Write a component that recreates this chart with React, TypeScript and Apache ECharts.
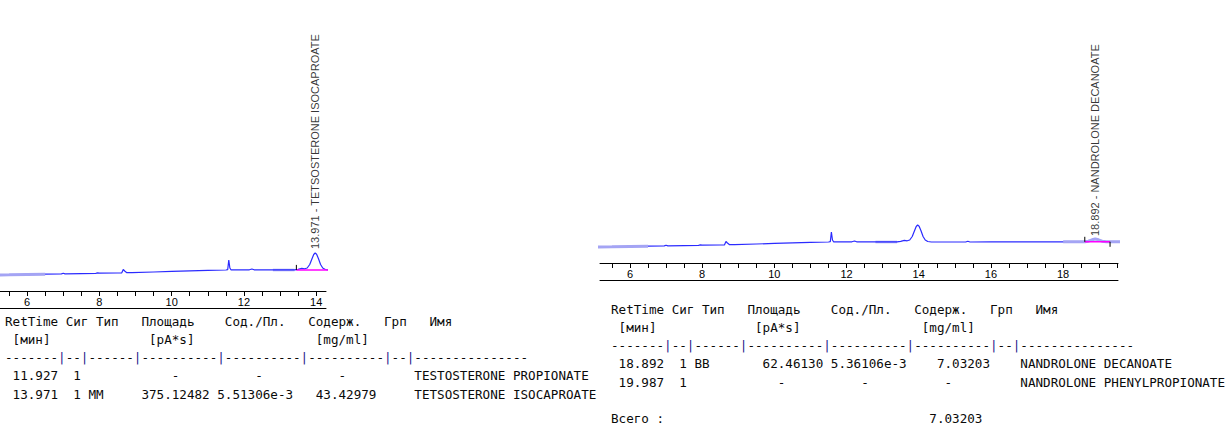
import React, { useEffect, useRef } from "react";
import * as echarts from "echarts";

// ---- chromatogram (time in min, signal in arbitrary units) ----
const times = [
  5.1, 5.5, 6.0, 6.5, 6.95, 7.0, 7.05, 7.5, 7.9, 7.95, 8.0, 8.5, 8.62, 8.66, 8.7, 8.76, 8.9, 9.5, 10.0,
  10.5, 11.0, 11.5, 11.55, 11.58, 11.61, 11.64, 11.8, 12.15, 12.22, 12.28, 12.8, 13.4, 13.5, 13.6,
  13.68, 13.75, 13.82, 13.88, 13.93, 13.97, 14.01, 14.06, 14.12, 14.18, 14.25, 14.35, 15.0, 15.3,
  15.36, 15.42, 16.0, 17.0, 18.0, 18.6, 18.7, 18.8, 18.89, 18.98, 19.08, 19.2, 19.6,
];
const signal = [
  16.0, 16.2, 16.5, 16.8, 17.1, 17.8, 17.1, 17.4, 17.7, 18.1, 17.8, 18.0, 18.2, 21.5, 20.0, 18.3, 18.3, 19.0, 19.6,
  20.1, 20.6, 21.0, 21.3, 31.0, 23.0, 21.2, 21.1, 21.2, 22.0, 21.2, 21.1, 21.1, 21.6, 22.6,
  22.2, 23.0, 26.5, 32.0, 36.5, 38.0, 36.8, 32.5, 26.5, 23.0, 21.5, 21.0, 21.0, 21.0,
  21.8, 21.0, 21.1, 21.2, 21.2, 21.2, 21.8, 23.2, 24.0, 23.2, 21.8, 21.2, 21.2,
];

// axis ranges and ticks
const leftRange = [5.25, 14.27];
const rightRange = [5.17, 19.52];
const leftTicks = [5.5, 6, 6.5, 7, 7.5, 8, 8.5, 9, 9.5, 10, 10.5, 11, 11.5, 12, 12.5, 13, 13.5, 14];
const rightTicks = [5.5, 6, 6.5, 7, 7.5, 8, 8.5, 9, 9.5, 10, 10.5, 11, 11.5, 12, 12.5, 13, 13.5, 14, 14.5, 15, 15.5, 16, 16.5, 17, 17.5, 18, 18.5, 19, 19.5];
const leftTickLabels = [6, 8, 10, 12, 14];
const rightTickLabels = [6, 8, 10, 12, 14, 16, 18];

// integrated peaks
const leftPeakTimes = [13.971];
const leftPeakHeights = [38.0];
const leftPeakNames = ["13.971 - TETSOSTERONE ISOCAPROATE"];
const rightPeakTimes = [18.892];
const rightPeakHeights = [24.0];
const rightPeakNames = ["18.892 - NANDROLONE DECANOATE"];
const leftBaselineStart = [13.45, 21.1];
const leftBaselineEnd = [14.4, 21.0];
const rightBaselineStart = [18.6, 21.2];
const rightBaselineEnd = [19.3, 21.2];

// report tables (column index, text)
const headerRow: [number, string][] = [[0, "RetTime"], [8, "Сиг"], [12, "Тип"], [18, "Площадь"], [29, "Сод./Пл."], [40, "Содерж."], [50, "Грп"], [56, "Имя"]];
const unitsRow: [number, string][] = [[1, "[мин]"], [19, "[pA*s]"], [41, "[mg/ml]"]];
const ruleRow = "-------|--|------|----------|----------|----------|--|---------------";
const leftRows: [number, string][][] = [
  [[1, "11.927"], [9, "1"], [22, "-"], [33, "-"], [44, "-"], [54, "TESTOSTERONE PROPIONATE"]],
  [[1, "13.971"], [9, "1"], [11, "MM"], [18, "375.12482"], [28, "5.51306e-3"], [41, "43.42979"], [54, "TETSOSTERONE ISOCAPROATE"]],
];
const rightRows: [number, string][][] = [
  [[1, "18.892"], [9, "1"], [11, "BB"], [20, "62.46130"], [29, "5.36106e-3"], [43, "7.03203"], [54, "NANDROLONE DECANOATE"]],
  [[1, "19.987"], [9, "1"], [22, "-"], [33, "-"], [44, "-"], [54, "NANDROLONE PHENYLPROPIONATE"]],
];
const totalRow: [number, string][] = [[0, "Всего :"], [42, "7.03203"]];

const MONO = "'DejaVu Sans Mono', 'Liberation Mono', monospace";
const SANS = "'Liberation Sans', Arial, sans-serif";
const CW = 7.58;
const FS = 12.6;

function pts(t0: number, t1: number) {
  const out: number[][] = [];
  times.forEach((t, i) => {
    if (t >= t0 && t <= t1) out.push([t, signal[i]]);
  });
  return out;
}

function rowTexts(tokens: [number, string][], x0: number, y: number, fill = "#0a0a0a") {
  return tokens.map(([c, s]) => ({
    type: "text",
    x: x0 + c * CW,
    y,
    silent: true,
    style: { text: s, fontFamily: MONO, fontSize: FS, fill, verticalAlign: "middle" },
  }));
}

function ruleTexts(x0: number, y: number) {
  const els: any[] = [];
  let i = 0;
  while (i < ruleRow.length) {
    const ch = ruleRow[i];
    let j = i;
    while (j < ruleRow.length && ruleRow[j] === ch) j++;
    els.push({
      type: "text",
      x: x0 + i * CW,
      y,
      silent: true,
      style: {
        text: ruleRow.slice(i, j),
        fontFamily: MONO,
        fontSize: FS,
        fill: ch === "|" ? "#22228a" : "#0a0a0a",
        verticalAlign: "middle",
      },
    });
    i = j;
  }
  return els;
}

function tableGraphics(x0: number, y0: number, rows: [number, string][][], withTotal: boolean) {
  const lh = 18.3;
  let els: any[] = [];
  els = els.concat(rowTexts(headerRow, x0, y0));
  els = els.concat(rowTexts(unitsRow, x0, y0 + lh));
  els = els.concat(ruleTexts(x0, y0 + 2 * lh));
  rows.forEach((r, k) => {
    els = els.concat(rowTexts(r, x0, y0 + (3 + k) * lh));
  });
  if (withTotal) els = els.concat(rowTexts(totalRow, x0, y0 + (3 + rows.length + 1) * lh));
  return els;
}

function xAxes(range: number[], ticks: number[], labels: number[], grid: number) {
  return [
    {
      type: "value",
      gridIndex: grid,
      min: range[0],
      max: range[1],
      position: "bottom",
      axisLine: { show: true, lineStyle: { color: "#000", width: 1 } },
      axisTick: { show: true, length: 5, customValues: ticks, lineStyle: { color: "#000" } },
      axisLabel: {
        show: true,
        customValues: labels,
        margin: 5,
        color: "#000",
        fontFamily: SANS,
        fontSize: 11,
      },
      splitLine: { show: false },
    },
    {
      type: "value",
      gridIndex: grid,
      min: range[0],
      max: range[1],
      position: "bottom",
      offset: 17,
      axisLine: { show: true, lineStyle: { color: "#000", width: 1 } },
      axisTick: { show: false },
      axisLabel: { show: false },
      splitLine: { show: false },
    },
  ];
}

function lineSeries(data: any[], xi: number, yi: number, color: string, width: number, z: number) {
  return {
    type: "line",
    xAxisIndex: xi,
    yAxisIndex: yi,
    data,
    symbol: "none",
    silent: true,
    clip: true,
    z,
    lineStyle: { color, width },
  };
}

function labelSeries(tArr: number[], hArr: number[], names: string[], xi: number, yi: number, dist: number) {
  return {
    type: "scatter",
    xAxisIndex: xi,
    yAxisIndex: yi,
    symbolSize: 0,
    silent: true,
    data: tArr.map((t, i) => ({ value: [t, hArr[i]], name: names[i] })),
    label: {
      show: true,
      position: "top",
      distance: dist,
      rotate: 90,
      align: "left",
      verticalAlign: "middle",
      formatter: (p: any) => p.name,
      color: "#000",
      fontFamily: SANS,
      fontSize: 11,
    },
  };
}

export default function App() {
  const ref = useRef<HTMLDivElement>(null);
  useEffect(() => {
    if (!ref.current) return;
    const chart = echarts.init(ref.current, null, { renderer: "svg" });
    const full = times.map((t, i) => [t, signal[i]]);
    const option: any = {
      animation: false,
      backgroundColor: "#fff",
      grid: [
        { left: 0, width: 326, top: 150, bottom: 145, containLabel: false },
        { left: 600, width: 518, top: 122, bottom: 173, containLabel: false },
      ],
      xAxis: [
        ...xAxes(leftRange, leftTicks, leftTickLabels, 0),
        ...xAxes(rightRange, rightTicks, rightTickLabels, 1),
      ],
      yAxis: [
        { type: "value", gridIndex: 0, min: 0, max: 141, show: false },
        { type: "value", gridIndex: 1, min: 0, max: 141, show: false },
      ],
      series: [
        // left panel
        lineSeries(full, 0, 0, "#2b2bff", 1.2, 3),
        lineSeries(pts(5.1, 6.7), 0, 0, "#a4a4f4", 3, 4),
        lineSeries(pts(12.3, 13.45), 0, 0, "#a4a4f4", 2.5, 2),
        lineSeries([leftBaselineStart, leftBaselineEnd], 0, 0, "#ff00ff", 1.5, 5),
        lineSeries([leftBaselineStart, [leftBaselineStart[0], leftBaselineStart[1] + 5]], 0, 0, "#000", 1, 6),
        labelSeries(leftPeakTimes, leftPeakHeights, leftPeakNames, 0, 0, 4),
        // right panel
        lineSeries(full, 2, 1, "#2b2bff", 1.2, 3),
        lineSeries(pts(5.1, 6.7), 2, 1, "#a4a4f4", 3, 4),
        lineSeries(pts(12.3, 13.45), 2, 1, "#a4a4f4", 2.5, 2),
        lineSeries(pts(17.6, 19.6), 2, 1, "#a4a4f4", 3, 4),
        lineSeries([rightBaselineStart, rightBaselineEnd], 2, 1, "#ff00ff", 1.5, 5),
        lineSeries([rightBaselineStart, [rightBaselineStart[0], rightBaselineStart[1] + 5]], 2, 1, "#000", 1, 6),
        lineSeries([rightBaselineEnd, [rightBaselineEnd[0], rightBaselineEnd[1] - 5]], 2, 1, "#000", 1, 6),
        labelSeries(rightPeakTimes, rightPeakHeights, rightPeakNames, 2, 1, 3),
      ],
      graphic: [
        ...tableGraphics(5, 321, leftRows, false),
        ...tableGraphics(611, 309, rightRows, true),
      ],
    };
    chart.setOption(option);
    return () => chart.dispose();
  }, []);
  return (
    <div
      ref={ref}
      style={{ position: "absolute", left: 0, top: 0, width: 1230, height: 436, background: "#fff" }}
    />
  );
}
